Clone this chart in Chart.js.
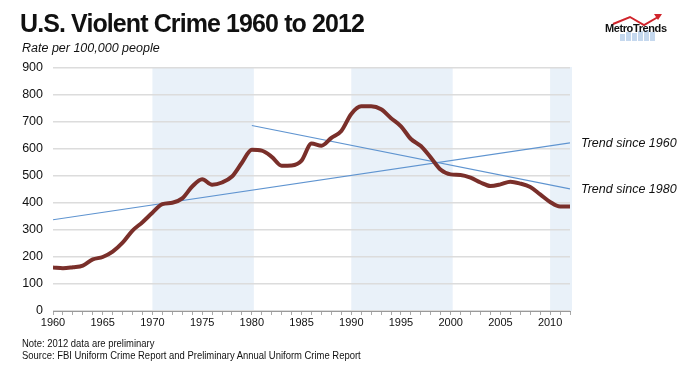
<!DOCTYPE html>
<html>
<head>
<meta charset="utf-8">
<script src="https://cdn.jsdelivr.net/npm/chart.js@4.4.0/dist/chart.umd.min.js"></script>
<style>
  html, body { margin: 0; padding: 0; background: #fff; }
  #wrap { position: relative; width: 685px; height: 378px; overflow: hidden; font-family: "Liberation Sans", Arial, Helvetica, sans-serif; }
  #chart { position: absolute; left: 0; top: 0; }
  .title { position: absolute; left: 20px; top: 9px; font-size: 25px; font-weight: bold; color: #111; white-space: nowrap; letter-spacing: -0.9px; }
  .sub { position: absolute; left: 22px; top: 41px; font-size: 12.5px; font-style: italic; color: #111; white-space: nowrap; }
  .note { position: absolute; left: 22px; font-size: 10.5px; color: #111; white-space: nowrap; transform: scaleX(0.9); transform-origin: left top; }
  #logo { position: absolute; left: 600px; top: 9px; }
</style>
</head>
<body>
<div id="wrap">
  <canvas id="chart" width="685" height="378"></canvas>
  <div class="title">U.S. Violent Crime 1960 to 2012</div>
  <div class="sub">Rate per 100,000 people</div>
  <div class="note" style="top:337px">Note: 2012 data are preliminary</div>
  <div class="note" style="top:349px">Source: FBI Uniform Crime Report and Preliminary Annual Uniform Crime Report</div>
  <svg id="logo" width="80" height="34" viewBox="0 0 80 34">
    <rect x="20" y="25" width="5" height="7" fill="#c5d8ee"/>
    <rect x="26" y="23" width="5" height="9" fill="#c5d8ee"/>
    <rect x="32" y="24" width="5" height="8" fill="#c5d8ee"/>
    <rect x="38" y="22" width="5" height="10" fill="#c5d8ee"/>
    <rect x="44" y="21" width="5" height="11" fill="#c5d8ee"/>
    <rect x="50" y="23" width="5" height="9" fill="#c5d8ee"/>
    <polyline points="13,15 30,8 44,16 58,8" fill="none" stroke="#d0242b" stroke-width="2"/>
    <polygon points="62,5 54,5 58,11" fill="#d0242b"/>
    <text x="5" y="23" font-family="Liberation Sans, Arial" font-weight="bold" font-size="11" fill="#111" letter-spacing="-0.4">MetroTrends</text>
  </svg>
</div>
<script>
// ---- data ----
const years = [1960, 1961, 1962, 1963, 1964, 1965, 1966, 1967, 1968, 1969,
               1970, 1971, 1972, 1973, 1974, 1975, 1976, 1977, 1978, 1979,
               1980, 1981, 1982, 1983, 1984, 1985, 1986, 1987, 1988, 1989,
               1990, 1991, 1992, 1993, 1994, 1995, 1996, 1997, 1998, 1999,
               2000, 2001, 2002, 2003, 2004, 2005, 2006, 2007, 2008, 2009,
               2010, 2011, 2012];
const crimeRate = [161, 158, 162, 168, 191, 200, 220, 253, 298, 329,
                   364, 396, 401, 417, 461, 488, 468, 476, 498, 549,
                   597, 594, 571, 538, 539, 557, 620, 612, 641, 667,
                   730, 758, 758, 747, 714, 684, 637, 611, 568, 523,
                   506, 504, 494, 476, 463, 469, 479, 472, 459, 432,
                   404, 387, 387];

const trend1960Years = [1960, 2012];
const trend1960Values = [338, 623];
const trend1980Years = [1980, 2012];
const trend1980Values = [687, 452];

const shadeStart = [1970, 1990, 2010];
const shadeEnd = [1980, 2000, 2012];

const yTicks = [0, 100, 200, 300, 400, 500, 600, 700, 800, 900];

function toPoints(xs, ys) {
    return xs.map(function (x, i) { return { x: x, y: ys[i] }; });
}

// ---- plugins ----
const shadePlugin = {
    id: 'shade',
    beforeDraw: function (chart) {
        const ctx = chart.ctx;
        const x = chart.scales.x;
        const area = chart.chartArea;
        ctx.save();
        ctx.fillStyle = '#e9f1f9';
        for (let i = 0; i < shadeStart.length; i++) {
            const x0 = x.getPixelForValue(shadeStart[i]);
            const x1 = x.getPixelForValue(shadeEnd[i]);
            ctx.fillRect(x0, area.top - 1, x1 - x0 + 2, area.bottom - area.top + 1);
        }
        ctx.restore();
    }
};

const trendLabelPlugin = {
    id: 'trendLabels',
    afterDatasetsDraw: function (chart) {
        const ctx = chart.ctx;
        ctx.save();
        ctx.font = 'italic 12.5px "Liberation Sans", Arial, sans-serif';
        ctx.fillStyle = '#111';
        ctx.textBaseline = 'middle';
        [1, 2].forEach(function (di) {
            const meta = chart.getDatasetMeta(di);
            const last = meta.data[meta.data.length - 1];
            ctx.fillText(chart.data.datasets[di].label, last.x + 11, last.y + 1);
        });
        ctx.restore();
    }
};

// ---- chart ----
const ctx = document.getElementById('chart').getContext('2d');
new Chart(ctx, {
    type: 'line',
    data: {
        datasets: [{
            label: 'Violent crime rate',
            data: toPoints(years, crimeRate),
            borderColor: '#7a2f2a',
            borderWidth: 4,
            tension: 0.4,
            cubicInterpolationMode: 'monotone',
            pointRadius: 0,
            fill: false
        }, {
            label: 'Trend since 1960',
            data: toPoints(trend1960Years, trend1960Values),
            borderColor: '#5f94d0',
            borderWidth: 1.2,
            pointRadius: 0,
            fill: false
        }, {
            label: 'Trend since 1980',
            data: toPoints(trend1980Years, trend1980Values),
            borderColor: '#5f94d0',
            borderWidth: 1.2,
            pointRadius: 0,
            fill: false
        }]
    },
    options: {
        responsive: false,
        animation: false,
        layout: { padding: { left: 0, right: 115, top: 68, bottom: 46 } },
        scales: {
            x: {
                type: 'linear',
                min: 1960,
                max: 2012,
                afterFit: function (s) { s.height = 21; },
                afterBuildTicks: function (s) {
                    s.ticks = years.map(function (y) { return { value: y }; });
                },
                border: { display: true, color: '#999', width: 1 },
                grid: { drawOnChartArea: false, drawTicks: true, tickLength: 4, color: '#aaa' },
                ticks: {
                    autoSkip: false,
                    maxRotation: 0,
                    padding: 1,
                    color: '#111',
                    font: { family: '"Liberation Sans", Arial, sans-serif', size: 11 },
                    callback: function (v) { return v % 5 === 0 ? String(v) : ''; }
                }
            },
            y: {
                min: 0,
                max: 900,
                afterFit: function (s) { s.width = 53; },
                afterBuildTicks: function (s) {
                    s.ticks = yTicks.map(function (v) { return { value: v }; });
                },
                border: { display: false },
                grid: { color: '#dcdcdc', lineWidth: 1.5, drawTicks: false },
                ticks: {
                    padding: 10,
                    color: '#111',
                    font: { family: '"Liberation Sans", Arial, sans-serif', size: 12.5 }
                }
            }
        },
        plugins: {
            legend: { display: false },
            tooltip: { enabled: false }
        }
    },
    plugins: [shadePlugin, trendLabelPlugin]
});
</script>
</body>
</html>
